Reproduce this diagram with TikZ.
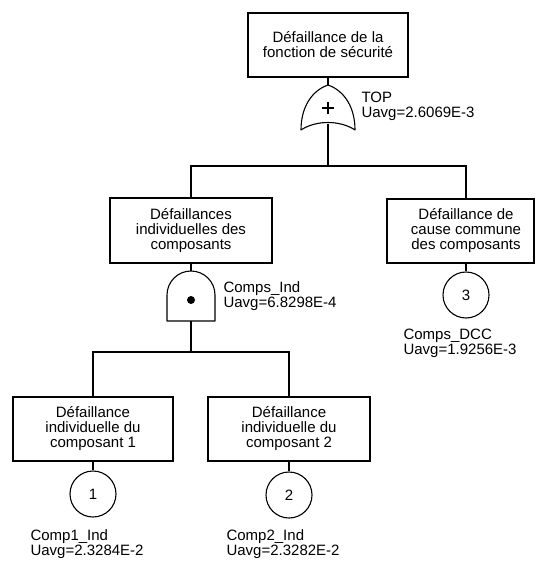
\documentclass[tikz,border=0pt]{standalone}
\usepackage{fontspec}
\setmainfont{Liberation Sans}
\begin{document}
\begin{tikzpicture}[x=1pt,y=-1pt,line width=1.1pt,
  font=\fontsize{15}{15}\selectfont,
  evbox/.style={draw, rectangle, align=center, inner sep=0pt},
  circ/.style={draw, circle, minimum size=46pt, inner sep=0pt},
  lbl/.style={align=left, inner sep=0pt, anchor=base west},
  gate/.style={draw, line join=round}]
\useasboundingbox (0,0) rectangle (538,561);

% boxes
\node[evbox, minimum width=160pt, minimum height=64pt] (top) at (328,45) {Défaillance de la\\fonction de sécurité};
\node[evbox, minimum width=162pt, minimum height=65pt] (ind) at (191,230.5) {Défaillances\\individuelles des\\composants};
\node[evbox, minimum width=147pt, minimum height=64pt] (dcc) at (460.5,231) {};
\node[align=center, inner sep=0pt] (dcct) at (466,231) {Défaillance de\\cause commune\\des composants};
\node[evbox, minimum width=160pt, minimum height=64pt] (c1box) at (93,429) {Défaillance\\individuelle du\\composant 1};
\node[evbox, minimum width=162pt, minimum height=64pt] (c2box) at (289,429) {Défaillance\\individuelle du\\composant 2};

% basic events
\node[circ] (e1) at (93,494) {1};
\node[circ] (e2) at (289,495) {2};
\node[circ] (e3) at (466,295) {3};

% OR gate
\coordinate (orin) at (328,85);
\coordinate (orout) at (328,124);
\draw[gate] (orin) .. controls (345,91) and (355,108) .. (355,130)
  .. controls (340,120) and (316,120) .. (301,130)
  .. controls (301,108) and (311,91) .. (orin) -- cycle;
\draw (322,108) -- (334,108) (328,102) -- (328,114);

% AND gate
\coordinate (andin) at (191,271);
\coordinate (andout) at (191,321);
\draw[gate] (167,321) -- (167,295) arc[start angle=180,end angle=0,radius=24pt] -- (215,321) -- cycle;
\fill (191,300) circle[radius=4pt];

% junctions
\coordinate (bar1) at (328,166);
\coordinate (bar2) at (191,352);

% connectors
\draw (top.south) -- (orin);
\draw (orout) -- (bar1);
\draw (ind.north) |- (bar1);
\draw (dcct |- dcc.north) |- (bar1);
\draw (ind.south) -- (andin);
\draw (andout) -- (bar2);
\draw (c1box.north) |- (bar2);
\draw (c2box.north) |- (bar2);
\draw (dcct |- dcc.south) -- (e3);
\draw (c1box.south) -- (e1);
\draw (c2box.south) -- (e2);

% labels (anchor = baseline of the last line)
\node[lbl] (ltop) at (361,118) {TOP\\Uavg=2.6069E-3};
\node[lbl] (lind) at (223,307) {Comps\_Ind\\Uavg=6.8298E-4};
\node[lbl] (ldcc) at (403,354) {Comps\_DCC\\Uavg=1.9256E-3};
\node[lbl] (le1) at (30,555) {Comp1\_Ind\\Uavg=2.3284E-2};
\node[lbl] (le2) at (226,555) {Comp2\_Ind\\Uavg=2.3282E-2};
\end{tikzpicture}
\end{document}
